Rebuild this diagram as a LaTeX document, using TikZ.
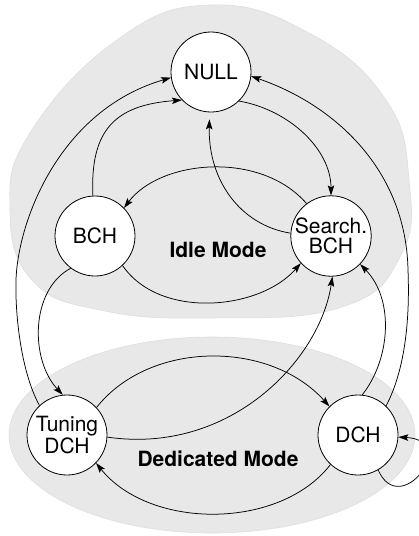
\documentclass[tikz,border=0pt]{standalone}
\usepackage{fontspec}
\setmainfont{TeX Gyre Heros}
\usetikzlibrary{arrows.meta}
\begin{document}
\begin{tikzpicture}[x=1pt,y=-1pt,
  state/.style={circle,draw=black,line width=0.8pt,fill=white,minimum size=80pt,inner sep=0pt,align=center,font=\fontsize{21}{19.5}\selectfont},
  modelabel/.style={font=\fontsize{21}{21}\selectfont\bfseries},
  region/.style={fill=black!9,draw=black!13,line width=0.6pt},
  trans/.style={line width=0.75pt,-{Stealth[length=10pt,width=6.5pt,inset=2pt]}}]
\useasboundingbox (0,0) rectangle (419,536);
\clip (0,0) rectangle (419,536);
\fill[white] (0,0) rectangle (419,536);
% regions
\draw[region] plot[smooth cycle,tension=0.75] coordinates {(210,5) (309,33) (386,100) (409,180) (401,255) (342,307) (210,318) (100,310) (32,280) (10,210) (30,133) (117,40)};
\draw[region] (212,435) ellipse [x radius=203, y radius=98];
% nodes
\node[state] (null) at (211,72) {NULL};
\node[state] (bch) at (95,236) {BCH};
\node[state] (sbch) at (331,236) {Search.\\BCH};
\node[state] (tun) at (67,435) {Tuning\\DCH};
\node[state] (dch) at (358,435) {DCH};
\node[modelabel] (idle) at (218,250) {Idle Mode};
\node[modelabel] (ded) at (218,459) {Dedicated Mode};
% transitions
\coordinate (lft) at (16,280);
\coordinate (rgt) at (408,270);
\draw[line width=0.75pt] (tun.133) .. controls (20,370) and (15,310) .. (lft);
\draw[trans] (lft) .. controls (18,220) and (60,110) .. (null.188);
\draw[trans] (bch.93) .. controls (90,130) and (115,105) .. (null.224);
\draw[trans] (null.-46) .. controls (290,110) and (331,150) .. (sbch.90);
\draw[trans,shorten >=7pt] (sbch.176) .. controls (240,225) and (208,180) .. (null.268);
\draw[trans] (sbch.127) .. controls (260,150) and (160,160) .. (bch.44);
\draw[trans] (bch.-47) .. controls (160,320) and (260,310) .. (sbch.222);
\draw[trans] (bch.233) .. controls (30,290) and (30,360) .. (tun.96);
\draw[trans] (tun.43) .. controls (150,340) and (270,340) .. (dch.135);
\draw[trans] (tun.-3) .. controls (230,455) and (320,360) .. (sbch.272);
\draw[trans] (dch.84) .. controls (390,360) and (395,300) .. (sbch.-44);
\draw[line width=0.75pt] (dch.46) .. controls (405,370) and (410,320) .. (rgt);
\draw[trans] (rgt) .. controls (406,170) and (335,105) .. (null.-6);
\draw[trans] (dch.-133) .. controls (280,530) and (150,530) .. (tun.-44);
\draw[trans] (dch.-60) .. controls (400,520) and (460,440) .. (dch.-3);
\end{tikzpicture}
\end{document}
